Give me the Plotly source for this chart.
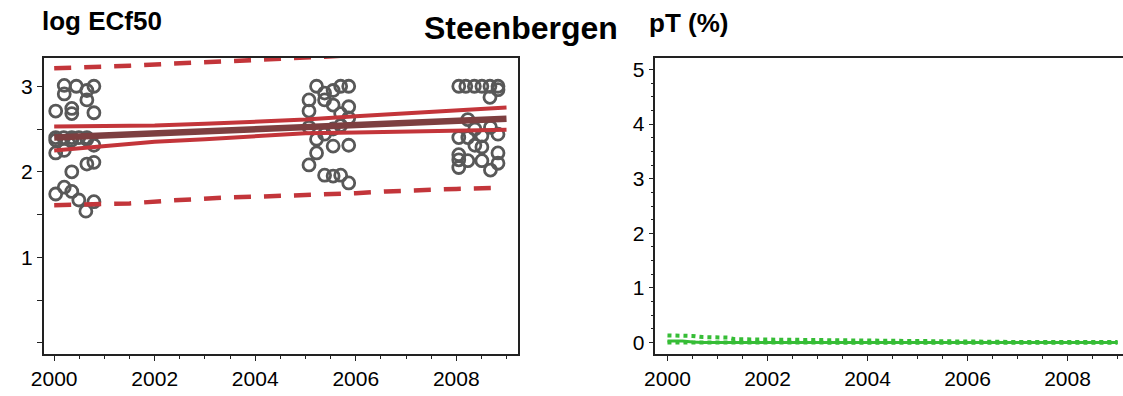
import plotly.graph_objects as go

# ---- left panel: log ECf50 observations and fitted trend ----
obs_year = [
    2000.03, 2000.20, 2000.20, 2000.35, 2000.35, 2000.44, 2000.65, 2000.65, 2000.79, 2000.79,
    2000.03, 2000.19, 2000.35, 2000.49, 2000.65, 2000.03, 2000.35, 2000.65, 2000.79,
    2000.03, 2000.20, 2000.35, 2000.65, 2000.79,
    2000.03, 2000.20, 2000.35, 2000.49, 2000.63, 2000.79,
    2005.22, 2005.38, 2005.38, 2005.55, 2005.70, 2005.86, 2005.07, 2005.07, 2005.55, 2005.70,
    2005.86, 2005.86, 2005.70, 2005.07, 2005.22, 2005.38, 2005.55, 2005.22, 2005.55, 2005.86,
    2005.07, 2005.38, 2005.55, 2005.70, 2005.86,
    2008.05, 2008.19, 2008.36, 2008.51, 2008.67, 2008.83, 2008.83, 2008.67,
    2008.23, 2008.37, 2008.05, 2008.23, 2008.51, 2008.68, 2008.83, 2008.37, 2008.51,
    2008.05, 2008.05, 2008.05, 2008.23, 2008.51, 2008.83, 2008.83, 2008.68,
]
obs_value = [
    2.71, 3.01, 2.91, 2.74, 2.68, 3.00, 2.95, 2.84, 3.00, 2.69,
    2.40, 2.40, 2.40, 2.40, 2.40, 2.37, 2.37, 2.38, 2.31,
    2.22, 2.25, 2.00, 2.09, 2.11,
    1.74, 1.82, 1.77, 1.67, 1.54, 1.65,
    3.00, 2.92, 2.84, 2.95, 3.00, 3.00, 2.84, 2.71, 2.78, 2.68,
    2.76, 2.63, 2.54, 2.52, 2.38, 2.44, 2.50, 2.22, 2.30, 2.31,
    2.08, 1.96, 1.95, 1.96, 1.87,
    3.00, 3.00, 3.00, 3.00, 3.00, 3.00, 2.96, 2.87,
    2.61, 2.50, 2.40, 2.40, 2.42, 2.52, 2.44, 2.31, 2.29,
    2.20, 2.14, 2.05, 2.13, 2.13, 2.22, 2.10, 2.02,
]

fit_year = [2000, 2001, 2002, 2003, 2004, 2005, 2006, 2007, 2008, 2009]
fit_mean = [2.40, 2.425, 2.45, 2.47, 2.50, 2.52, 2.55, 2.57, 2.60, 2.62]
fit_upper = [2.53, 2.535, 2.54, 2.56, 2.58, 2.61, 2.65, 2.68, 2.72, 2.75]
fit_lower = [2.25, 2.30, 2.35, 2.38, 2.42, 2.45, 2.46, 2.47, 2.48, 2.49]

band_year = [2000, 2000.8, 2001.5, 2002.2, 2002.8, 2003.4, 2004.1, 2004.8,
             2005.4, 2006, 2006.6, 2007.25, 2008, 2008.7]
band_upper = [3.21, 3.22, 3.24, 3.26, 3.28, 3.29, 3.31, 3.33,
              3.35, 3.37, 3.39, 3.41, 3.43, 3.44]
band_lower = [1.61, 1.62, 1.63, 1.66, 1.68, 1.70, 1.71, 1.72,
              1.74, 1.75, 1.77, 1.79, 1.80, 1.81]

# ---- right panel: pT (%) ----
pt_year = [2000, 2000.3, 2000.5, 2000.7, 2001.2, 2001.35, 2002, 2003, 2004,
           2005, 2006, 2007, 2008, 2009]
pt_mid = [0.03, 0.03, 0.01, 0.0, 0.0, 0.0, 0.0, 0.0, 0.0, 0.0, 0.0, 0.0, 0.0, 0.0]
pt_upper = [0.13, 0.13, 0.12, 0.10, 0.09, 0.06, 0.055, 0.04, 0.03,
            0.015, 0.01, 0.01, 0.01, 0.01]
pt_lower = [0.0, 0.0, -0.005, -0.005, -0.005, -0.005, -0.005, -0.005, -0.005,
            -0.005, -0.005, -0.005, -0.005, -0.005]

RED = "#c3353a"
BROWN = "#7d3f40"
GREY = "#585858"
GREEN = "#36bd36"
FONT = "Liberation Sans, Arial, sans-serif"

fig = go.Figure()

# observations (drawn first so the fitted lines sit on top)
fig.add_trace(go.Scatter(x=obs_year, y=obs_value, mode="markers", xaxis="x", yaxis="y",
                         marker=dict(symbol="circle-open", size=12, color=GREY,
                                     line=dict(color=GREY, width=2.8))))
# prediction band (dashed)
for ys in (band_upper, band_lower):
    fig.add_trace(go.Scatter(x=band_year, y=ys, mode="lines", xaxis="x", yaxis="y",
                             line=dict(color=RED, width=4.5, dash="17px,13px"),
                             hoverinfo="skip"))
# confidence band and mean trend
for ys in (fit_upper, fit_lower):
    fig.add_trace(go.Scatter(x=fit_year, y=ys, mode="lines", xaxis="x", yaxis="y",
                             line=dict(color=RED, width=4), hoverinfo="skip"))
fig.add_trace(go.Scatter(x=fit_year, y=fit_mean, mode="lines", xaxis="x", yaxis="y",
                         line=dict(color=BROWN, width=6.5)))

# pT series
fig.add_trace(go.Scatter(x=pt_year, y=pt_mid, mode="lines", xaxis="x2", yaxis="y2",
                         line=dict(color=GREEN, width=3)))
fig.add_trace(go.Scatter(x=pt_year, y=pt_upper, mode="lines", xaxis="x2", yaxis="y2",
                         line=dict(color=GREEN, width=4, dash="dot")))
fig.add_trace(go.Scatter(x=pt_year, y=pt_lower, mode="lines", xaxis="x2", yaxis="y2",
                         line=dict(color=GREEN, width=4, dash="dot")))

W, H = 1123, 396

def px_x(p):
    return p / W

def px_y(p):
    return 1 - p / H

tickfont = dict(family=FONT, size=21, color="black")
common = dict(showgrid=False, zeroline=False, showline=True, linecolor="#222",
              linewidth=1.5, ticks="outside", ticklen=5, tickcolor="#222",
              tickfont=tickfont)

fig.update_layout(
    width=W, height=H,
    margin=dict(l=0, r=0, t=0, b=0),
    paper_bgcolor="white", plot_bgcolor="white",
    showlegend=False,
    xaxis=dict(domain=[px_x(31), px_x(511)], range=[1999.79, 2009.23],
               tickmode="linear", tick0=2000, dtick=2, mirror=True, anchor="y",
               minor=dict(dtick=0.5, tick0=2000, ticks="outside", ticklen=3,
                          tickcolor="#222"),
               **common),
    yaxis=dict(domain=[px_y(354), px_y(58)], range=[-0.13, 3.33],
               tickmode="array", tickvals=[0, 0.5, 1, 1.5, 2, 2.5, 3],
               ticktext=["", "", "1", "", "2", "", "3"], mirror=True, anchor="x",
               **common),
    xaxis2=dict(domain=[px_x(650), 1.0], range=[1999.76, 2009.11],
                tickmode="linear", tick0=2000, dtick=2, mirror=True, anchor="y2",
                minor=dict(dtick=0.5, tick0=2000, ticks="outside", ticklen=3,
                           tickcolor="#222"),
                **common),
    yaxis2=dict(domain=[px_y(354), px_y(58)], range=[-0.21, 5.21],
                tickmode="linear", tick0=0, dtick=1, anchor="x2",
                minor=dict(dtick=0.25, ticks="outside", ticklen=3, tickcolor="#222"),
                **common),
    annotations=[
        dict(text="<b>log ECf50</b>", x=px_x(27), y=px_y(21), xref="paper", yref="paper",
             xanchor="left", yanchor="middle", showarrow=False,
             font=dict(family=FONT, size=26, color="black")),
        dict(text="<b>Steenbergen</b>", x=px_x(514), y=px_y(28), xref="paper", yref="paper",
             xanchor="center", yanchor="middle", showarrow=False,
             font=dict(family=FONT, size=32, color="black")),
        dict(text="<b>pT (%)</b>", x=px_x(641), y=px_y(23), xref="paper", yref="paper",
             xanchor="left", yanchor="middle", showarrow=False,
             font=dict(family=FONT, size=26, color="black")),
    ],
)

fig.write_html("out.html")
